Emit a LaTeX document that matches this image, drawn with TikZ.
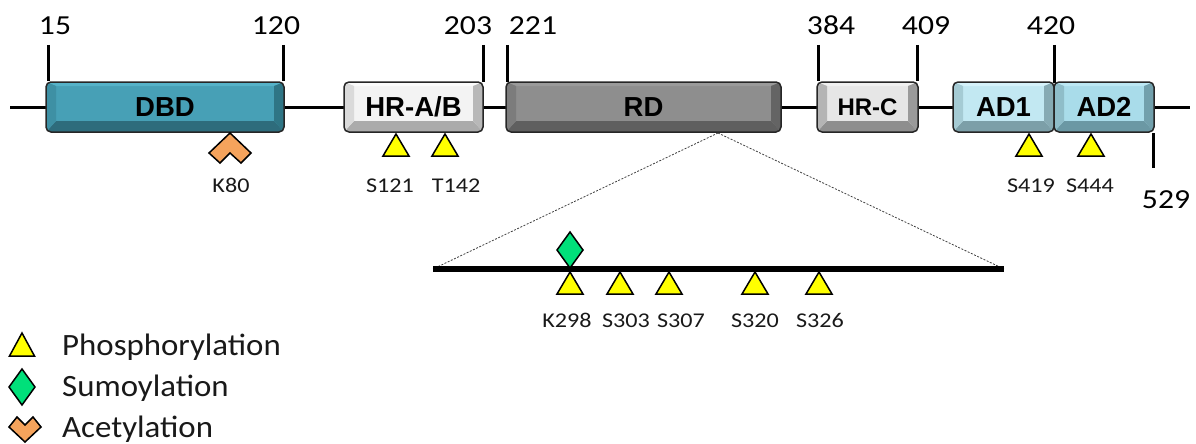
\documentclass[tikz,border=0pt]{standalone}
\usepackage{fontspec}
\setmainfont{Carlito}
\newfontfamily\numfont{Carlito}[FakeStretch=1.15]
\newfontfamily\legfont{Carlito}[FakeStretch=1.06]
\newfontfamily\boxfont{Liberation Sans}
\definecolor{dbdF}{HTML}{47A0B6}\definecolor{dbdT}{HTML}{55B2C8}\definecolor{dbdL}{HTML}{3E90A4}\definecolor{dbdR}{HTML}{2F7585}\definecolor{dbdB}{HTML}{2E6C7C}
\definecolor{habF}{HTML}{F3F3F3}\definecolor{habT}{HTML}{FBFBFB}\definecolor{habL}{HTML}{DADADA}\definecolor{habR}{HTML}{B8B8B8}\definecolor{habB}{HTML}{ABABAB}
\definecolor{rdF}{HTML}{8E8E8E}\definecolor{rdT}{HTML}{9A9A9A}\definecolor{rdL}{HTML}{7C7C7C}\definecolor{rdR}{HTML}{646464}\definecolor{rdB}{HTML}{5F5F5F}
\definecolor{hcF}{HTML}{E6E6E6}\definecolor{hcT}{HTML}{F0F0F0}\definecolor{hcL}{HTML}{B4B4B4}\definecolor{hcR}{HTML}{9A9A9A}\definecolor{hcB}{HTML}{8E8E8E}
\definecolor{a1F}{HTML}{C2E8F2}\definecolor{a1T}{HTML}{D5F2FA}\definecolor{a1L}{HTML}{A5CBD4}\definecolor{a1R}{HTML}{86AAB3}\definecolor{a1B}{HTML}{7C9FA8}
\definecolor{a2F}{HTML}{A9DCEA}\definecolor{a2T}{HTML}{BCE8F4}\definecolor{a2L}{HTML}{8FBDC9}\definecolor{a2R}{HTML}{72A0AC}\definecolor{a2B}{HTML}{6B98A4}
\definecolor{phosY}{HTML}{FFFF00}\definecolor{sumoG}{HTML}{00E07A}\definecolor{acetO}{HTML}{F5A35C}
\tikzset{
  bev/.style n args={5}{draw=black!85, line width=1.5pt, rounded corners=5pt, fill=#1,
    minimum height=50pt, inner sep=0pt, text=black,
    font=\boxfont\bfseries\fontsize{27.5}{30}\selectfont,
    path picture={
      \fill[sharp corners,#2] (path picture bounding box.north west) -- (path picture bounding box.north east)
        -- ([xshift=-10pt,yshift=-4pt]path picture bounding box.north east) -- ([xshift=10pt,yshift=-4pt]path picture bounding box.north west) -- cycle;
      \fill[sharp corners,#5] (path picture bounding box.south west) -- (path picture bounding box.south east)
        -- ([xshift=-10pt,yshift=11pt]path picture bounding box.south east) -- ([xshift=10pt,yshift=11pt]path picture bounding box.south west) -- cycle;
      \fill[sharp corners,#3] (path picture bounding box.north west) -- (path picture bounding box.south west)
        -- ([xshift=10pt,yshift=11pt]path picture bounding box.south west) -- ([xshift=10pt,yshift=-4pt]path picture bounding box.north west) -- cycle;
      \fill[sharp corners,#4] (path picture bounding box.north east) -- (path picture bounding box.south east)
        -- ([xshift=-10pt,yshift=11pt]path picture bounding box.south east) -- ([xshift=-10pt,yshift=-4pt]path picture bounding box.north east) -- cycle;
    }},
  tickline/.style={line width=3pt},
  num/.style={font=\numfont\fontsize{27.5}{30}\selectfont, anchor=base, inner sep=0pt},
  site/.style={font=\numfont\fontsize{21}{24}\selectfont, anchor=base, inner sep=0pt, text=black!90},
  leg/.style={font=\legfont\fontsize{31}{34}\selectfont, anchor=base west, inner sep=0pt, text=black!90},
  modmark/.style={draw=black, line width=1.5pt, line join=miter},
  phos/.style={modmark, fill=phosY},
  sumo/.style={modmark, fill=sumoG},
  acet/.style={modmark, fill=acetO},
}
\newcommand\phosat[2]{\draw[phos] (#1,#2) -- ++(13,22) -- ++(-26,0) -- cycle;}
\begin{document}
\begin{tikzpicture}[x=1pt,y=-1pt]
\useasboundingbox (0,0) rectangle (1196,444);
% main line
\coordinate (ls) at (10,107);
\coordinate (le) at (1190,107);
\draw[line width=3pt] (ls) -- (le);
% ticks
\draw[tickline] (48,45) -- (48,81);
\draw[tickline] (283,45) -- (283,81);
\draw[tickline] (483,45) -- (483,82);
\draw[tickline] (507,45) -- (507,82);
\draw[tickline] (818,45) -- (818,81);
\draw[tickline] (917,45) -- (917,81);
\draw[tickline] (1054,45) -- (1054,83);
\draw[tickline] (1153,133) -- (1153,168);
% numbers
\node[num] (n15) at (55,35) {15};
\node[num] (n120) at (276,35) {120};
\node[num] (n203) at (468,35) {203};
\node[num] (n221) at (533,35) {221};
\node[num] (n384) at (831,35) {384};
\node[num] (n409) at (926,35) {409};
\node[num] (n420) at (1051,35) {420};
\node[num] (n529) at (1166,208) {529};
% domains
\node[bev={dbdF}{dbdT}{dbdL}{dbdR}{dbdB}, minimum width=238pt] (dbd) at (165,107) {DBD};
\node[bev={habF}{habT}{habL}{habR}{habB}, minimum width=139pt] (hrab) at (413.5,107) {HR-A/B};
\node[bev={rdF}{rdT}{rdL}{rdR}{rdB}, minimum width=275pt] (rd) at (643.5,107) {RD};
\node[bev={hcF}{hcT}{hcL}{hcR}{hcB}, minimum width=101pt, font=\boxfont\bfseries\fontsize{24}{28}\selectfont] (hrc) at (867.5,107) {HR-C};
\node[bev={a1F}{a1T}{a1L}{a1R}{a1B}, minimum width=101pt] (ad1) at (1003.5,107) {AD1};
\node[bev={a2F}{a2T}{a2L}{a2R}{a2B}, minimum width=100pt] (ad2) at (1104,107) {AD2};
% modifications on main line
\draw[acet] (209,153) -- (230,133) -- (251,153) -- (241,163) -- (230,153) -- (220,163) -- cycle;
\phosat{396}{134}
\phosat{445}{134}
\phosat{1029}{134}
\phosat{1091}{134}
\node[site] (k80) at (231,192) {K80};
\node[site] (s121) at (390,192) {S121};
\node[site] (t142) at (456,192) {T142};
\node[site] (s419) at (1031,192) {S419};
\node[site] (s444) at (1090,192) {S444};
% zoom
\coordinate (rdb) at (718,133);
\coordinate (zl) at (433,269);
\coordinate (zr) at (1004,269);
\draw[dash pattern=on 2pt off 1.5pt, line width=0.8pt, black!75] (rdb) -- (zl);
\draw[dash pattern=on 2pt off 1.5pt, line width=0.8pt, black!75] (rdb) -- (zr);
\draw[line width=6pt] (zl) -- (zr);
\draw[sumo] (570,232) -- (583,250) -- (570,268) -- (557,250) -- cycle;
\phosat{570}{272}
\phosat{620}{272}
\phosat{669}{272}
\phosat{755}{272}
\phosat{819}{272}
\node[site] (k298) at (567,327) {K298};
\node[site] (s303) at (626,327) {S303};
\node[site] (s307) at (681,327) {S307};
\node[site] (s320) at (755,327) {S320};
\node[site] (s326) at (820,327) {S326};
% legend
\draw[phos] (22,333) -- (34.5,356) -- (9.5,356) -- cycle;
\draw[sumo] (22,369) -- (35,387) -- (22,405) -- (9,387) -- cycle;
\draw[acet] (9,427) -- (17,417) -- (25,425) -- (33,417) -- (41,427) -- (25,442) -- cycle;
\node[leg] (lp) at (62,355) {Phosphorylation};
\node[leg] (ls2) at (62,396) {Sumoylation};
\node[leg] (la) at (62,437) {Acetylation};
\end{tikzpicture}
\end{document}
